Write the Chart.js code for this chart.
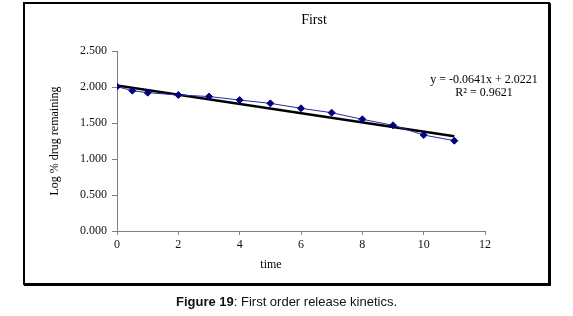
<!DOCTYPE html>
<html>
<head>
<meta charset="utf-8">
<script src="https://cdn.jsdelivr.net/npm/chart.js@4/dist/chart.umd.min.js"></script>
<style>
  html, body { margin: 0; padding: 0; background: #fff; }
  body { width: 573px; height: 316px; position: relative; overflow: hidden; }
  #frame {
    position: absolute; left: 23px; top: 2px; width: 527px; height: 283px;
    box-sizing: border-box; border: 2px solid #000; box-shadow: 1px 1px 0 #000;
  }
  #chart { position: absolute; left: 0; top: 0; }
  #caption {
    position: absolute; left: 0; width: 573px; top: 294px; text-align: center;
    font-family: "Liberation Sans", Arial, sans-serif; font-size: 13px; color: #111;
  }
</style>
</head>
<body>
<div id="frame"></div>
<canvas id="chart" width="573" height="316"></canvas>
<div id="caption"><b>Figure 19</b>: First order release kinetics.</div>
<script>
// time points and log % drug remaining
const timePoints = [0, 0.5, 1, 2, 3, 4, 5, 6, 7, 8, 9, 10, 11];
const logRemaining = [2.005, 1.949, 1.921, 1.889, 1.868, 1.819, 1.773, 1.704, 1.643, 1.551, 1.468, 1.333, 1.254];

// linear trendline endpoints (y = -0.0641x + 2.0221)
const trendX = [0, 11];
const trendY = [2.022, 1.317];

const xTicks = [0, 2, 4, 6, 8, 10, 12];
const yTicks = [0, 0.5, 1, 1.5, 2, 2.5];

const serif = '"Liberation Serif", "Times New Roman", serif';

// extra text: chart title, x axis title, trendline equation
const textPlugin = {
  id: 'extraText',
  afterDraw(chart) {
    const ctx = chart.ctx;
    ctx.save();
    ctx.fillStyle = '#000';
    ctx.textAlign = 'center';
    ctx.textBaseline = 'middle';
    ctx.font = '14px ' + serif;
    ctx.fillText('First', 314, 20);
    ctx.font = '12px ' + serif;
    ctx.fillText('time', 271, 265);
    ctx.fillText('y = -0.0641x + 2.0221', 484, 80);
    ctx.fillText('R\u00B2 = 0.9621', 484, 93);
    ctx.restore();
  }
};

new Chart(document.getElementById('chart'), {
  type: 'scatter',
  data: {
    datasets: [
      {
        label: 'First',
        data: timePoints.map((t, i) => ({ x: t, y: logRemaining[i] })),
        showLine: true,
        borderColor: '#2a2aa8',
        borderWidth: 1,
        pointStyle: 'rectRot',
        pointRadius: 3.5,
        pointBackgroundColor: '#000080',
        pointBorderColor: '#000080',
        order: 1
      },
      {
        label: 'Linear (First)',
        data: trendX.map((t, i) => ({ x: t, y: trendY[i] })),
        showLine: true,
        borderColor: '#000',
        borderWidth: 2.5,
        pointRadius: 0,
        order: 2
      }
    ]
  },
  options: {
    responsive: false,
    animation: false,
    layout: { padding: { left: 0, top: 51, right: 88, bottom: 0 } },
    plugins: {
      legend: { display: false },
      tooltip: { enabled: false }
    },
    scales: {
      x: {
        type: 'linear',
        min: 0,
        max: 12,
        afterFit: (s) => { s.height = 85; },
        afterBuildTicks: (s) => { s.ticks = xTicks.map(v => ({ value: v })); },
        grid: { drawOnChartArea: false, tickLength: 4, color: '#808080' },
        border: { color: '#808080', width: 1 },
        ticks: { color: '#111', padding: 3, font: { family: serif, size: 12 } }
      },
      y: {
        min: 0,
        max: 2.5,
        afterFit: (s) => { s.width = 117; },
        afterBuildTicks: (s) => { s.ticks = yTicks.map(v => ({ value: v })); },
        grid: { drawOnChartArea: false, tickLength: 5, color: '#808080' },
        border: { color: '#808080', width: 1 },
        ticks: {
          color: '#111', padding: 5, font: { family: serif, size: 12 },
          callback: (v) => Number(v).toFixed(3)
        },
        title: {
          display: true, text: 'Log % drug remaining', color: '#000',
          font: { family: serif, size: 12 }, padding: { top: 48, bottom: 0 }
        }
      }
    }
  },
  plugins: [textPlugin]
});
</script>
</body>
</html>
